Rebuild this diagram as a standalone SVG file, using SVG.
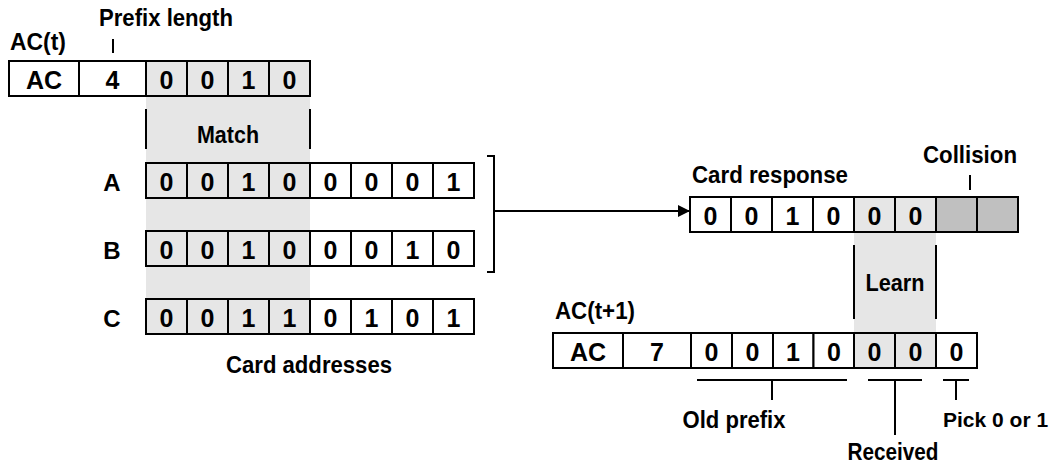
<svg xmlns="http://www.w3.org/2000/svg" width="1055" height="468" viewBox="0 0 1055 468">
<style>
  .cell{fill:#ffffff;stroke:#000;stroke-width:2}
  .lg{fill:#e6e6e6}
  .dg{fill:#c0c0c0}
  .ln{stroke:#000;stroke-width:2;fill:none}
  .ct{font-family:"Liberation Sans",Arial,sans-serif;font-weight:bold;font-size:25px;text-anchor:middle;fill:#000}
  .lb{font-family:"Liberation Sans",Arial,sans-serif;font-weight:bold;font-size:24px;fill:#000}
  .mid{text-anchor:middle}
</style>
<defs>
  <marker id="arr" markerWidth="12" markerHeight="12" refX="12" refY="6" orient="auto" markerUnits="userSpaceOnUse">
    <path d="M0,0 L12,6 L0,12 Z" fill="#000"/>
  </marker>
</defs>

<!-- shaded regions -->
<g id="match-region">
  <rect x="146" y="61" width="164" height="273" class="lg"/>
  <line x1="146" y1="109" x2="146" y2="149" class="ln"/>
  <line x1="310" y1="109" x2="310" y2="149" class="ln"/>
  <text x="228" y="143" class="lb mid" textLength="62" lengthAdjust="spacingAndGlyphs">Match</text>
</g>
<g id="learn-region">
  <rect x="854" y="197" width="82" height="171" class="lg"/>
  <line x1="854" y1="245" x2="854" y2="319" class="ln"/>
  <line x1="936" y1="245" x2="936" y2="319" class="ln"/>
  <text x="895" y="291" class="lb mid" textLength="59" lengthAdjust="spacingAndGlyphs">Learn</text>
</g>

<!-- AC(t) -->
<g id="ac-t">
  <text x="10" y="50" class="lb" textLength="56" lengthAdjust="spacingAndGlyphs">AC(t)</text>
  <rect x="9" y="61" width="70" height="35" class="cell"/>
  <rect x="79" y="61" width="67" height="35" class="cell"/>
  <rect x="146" y="61" width="41" height="35" class="cell lg"/>
  <rect x="187" y="61" width="41" height="35" class="cell lg"/>
  <rect x="228" y="61" width="41" height="35" class="cell lg"/>
  <rect x="269" y="61" width="41" height="35" class="cell lg"/>
  <text x="44" y="88.5" class="ct">AC</text>
  <text x="112.5" y="88.5" class="ct">4</text>
  <text x="166.5" y="88.5" class="ct">0</text>
  <text x="207.5" y="88.5" class="ct">0</text>
  <text x="248.5" y="88.5" class="ct">1</text>
  <text x="289.5" y="88.5" class="ct">0</text>
</g>
<g id="prefix-label">
  <text x="99" y="26" class="lb" textLength="134" lengthAdjust="spacingAndGlyphs">Prefix length</text>
  <line x1="113" y1="39" x2="113" y2="53" class="ln"/>
</g>

<!-- Card address rows -->
<g id="row-a">
  <text x="112" y="190.5" class="lb mid">A</text>
  <rect x="146" y="163" width="41" height="35" class="cell lg"/>
  <rect x="187" y="163" width="41" height="35" class="cell lg"/>
  <rect x="228" y="163" width="41" height="35" class="cell lg"/>
  <rect x="269" y="163" width="41" height="35" class="cell lg"/>
  <rect x="310" y="163" width="41" height="35" class="cell"/>
  <rect x="351" y="163" width="41" height="35" class="cell"/>
  <rect x="392" y="163" width="41" height="35" class="cell"/>
  <rect x="433" y="163" width="41" height="35" class="cell"/>
  <text x="166.5" y="190.5" class="ct">0</text>
  <text x="207.5" y="190.5" class="ct">0</text>
  <text x="248.5" y="190.5" class="ct">1</text>
  <text x="289.5" y="190.5" class="ct">0</text>
  <text x="330.5" y="190.5" class="ct">0</text>
  <text x="371.5" y="190.5" class="ct">0</text>
  <text x="412.5" y="190.5" class="ct">0</text>
  <text x="453.5" y="190.5" class="ct">1</text>
</g>
<g id="row-b">
  <text x="112" y="258.5" class="lb mid">B</text>
  <rect x="146" y="231" width="41" height="35" class="cell lg"/>
  <rect x="187" y="231" width="41" height="35" class="cell lg"/>
  <rect x="228" y="231" width="41" height="35" class="cell lg"/>
  <rect x="269" y="231" width="41" height="35" class="cell lg"/>
  <rect x="310" y="231" width="41" height="35" class="cell"/>
  <rect x="351" y="231" width="41" height="35" class="cell"/>
  <rect x="392" y="231" width="41" height="35" class="cell"/>
  <rect x="433" y="231" width="41" height="35" class="cell"/>
  <text x="166.5" y="258.5" class="ct">0</text>
  <text x="207.5" y="258.5" class="ct">0</text>
  <text x="248.5" y="258.5" class="ct">1</text>
  <text x="289.5" y="258.5" class="ct">0</text>
  <text x="330.5" y="258.5" class="ct">0</text>
  <text x="371.5" y="258.5" class="ct">0</text>
  <text x="412.5" y="258.5" class="ct">1</text>
  <text x="453.5" y="258.5" class="ct">0</text>
</g>
<g id="row-c">
  <text x="112" y="326.5" class="lb mid">C</text>
  <rect x="146" y="299" width="41" height="35" class="cell lg"/>
  <rect x="187" y="299" width="41" height="35" class="cell lg"/>
  <rect x="228" y="299" width="41" height="35" class="cell lg"/>
  <rect x="269" y="299" width="41" height="35" class="cell lg"/>
  <rect x="310" y="299" width="41" height="35" class="cell"/>
  <rect x="351" y="299" width="41" height="35" class="cell"/>
  <rect x="392" y="299" width="41" height="35" class="cell"/>
  <rect x="433" y="299" width="41" height="35" class="cell"/>
  <text x="166.5" y="326.5" class="ct">0</text>
  <text x="207.5" y="326.5" class="ct">0</text>
  <text x="248.5" y="326.5" class="ct">1</text>
  <text x="289.5" y="326.5" class="ct">1</text>
  <text x="330.5" y="326.5" class="ct">0</text>
  <text x="371.5" y="326.5" class="ct">1</text>
  <text x="412.5" y="326.5" class="ct">0</text>
  <text x="453.5" y="326.5" class="ct">1</text>
</g>
<g id="card-addresses-label">
  <text x="309" y="373" class="lb mid" textLength="166" lengthAdjust="spacingAndGlyphs">Card addresses</text>
</g>

<!-- Card response -->
<g id="card-response">
  <text x="692" y="183" class="lb" textLength="156" lengthAdjust="spacingAndGlyphs">Card response</text>
  <rect x="690" y="197" width="41" height="35" class="cell"/>
  <rect x="731" y="197" width="41" height="35" class="cell"/>
  <rect x="772" y="197" width="41" height="35" class="cell"/>
  <rect x="813" y="197" width="41" height="35" class="cell"/>
  <rect x="854" y="197" width="41" height="35" class="cell lg"/>
  <rect x="895" y="197" width="41" height="35" class="cell lg"/>
  <rect x="936" y="197" width="41" height="35" class="cell dg"/>
  <rect x="977" y="197" width="41" height="35" class="cell dg"/>
  <text x="710.5" y="224.5" class="ct">0</text>
  <text x="751.5" y="224.5" class="ct">0</text>
  <text x="792.5" y="224.5" class="ct">1</text>
  <text x="833.5" y="224.5" class="ct">0</text>
  <text x="874.5" y="224.5" class="ct">0</text>
  <text x="915.5" y="224.5" class="ct">0</text>
</g>
<g id="collision-label">
  <text x="970" y="163" class="lb mid" textLength="94" lengthAdjust="spacingAndGlyphs">Collision</text>
  <line x1="970" y1="175" x2="970" y2="190" class="ln"/>
</g>

<!-- AC(t+1) -->
<g id="ac-t1">
  <text x="555" y="319" class="lb" textLength="80" lengthAdjust="spacingAndGlyphs">AC(t+1)</text>
  <rect x="553" y="333" width="70" height="35" class="cell"/>
  <rect x="623" y="333" width="68" height="35" class="cell"/>
  <rect x="691" y="333" width="41" height="35" class="cell"/>
  <rect x="732" y="333" width="41" height="35" class="cell"/>
  <rect x="773" y="333" width="40.5" height="35" class="cell"/>
  <rect x="813.5" y="333" width="40.5" height="35" class="cell"/>
  <rect x="854" y="333" width="41" height="35" class="cell lg"/>
  <rect x="895" y="333" width="41" height="35" class="cell lg"/>
  <rect x="936" y="333" width="41" height="35" class="cell"/>
  <text x="588" y="360.5" class="ct">AC</text>
  <text x="657" y="360.5" class="ct">7</text>
  <text x="711.5" y="360.5" class="ct">0</text>
  <text x="752.5" y="360.5" class="ct">0</text>
  <text x="793" y="360.5" class="ct">1</text>
  <text x="834" y="360.5" class="ct">0</text>
  <text x="874.5" y="360.5" class="ct">0</text>
  <text x="915.5" y="360.5" class="ct">0</text>
  <text x="956.5" y="360.5" class="ct">0</text>
</g>
<g id="old-prefix">
  <path d="M697,380 H847 M772,380 V400" class="ln"/>
  <text x="734" y="428" class="lb mid" textLength="103" lengthAdjust="spacingAndGlyphs">Old prefix</text>
</g>
<g id="received">
  <path d="M868,380 H922 M895,380 V435" class="ln"/>
  <text x="893" y="460" class="lb mid" textLength="91" lengthAdjust="spacingAndGlyphs">Received</text>
</g>
<g id="pick">
  <path d="M943,380 H969 M956,380 V400" class="ln"/>
  <text x="943" y="427" class="lb" style="font-size:21px">Pick 0 or 1</text>
</g>

<!-- connectors -->
<g id="connectors">
  <path d="M487,156 H494 V272 H487" class="ln"/>
  <line x1="494" y1="211" x2="690" y2="211" class="ln" marker-end="url(#arr)"/>
</g>
</svg>
